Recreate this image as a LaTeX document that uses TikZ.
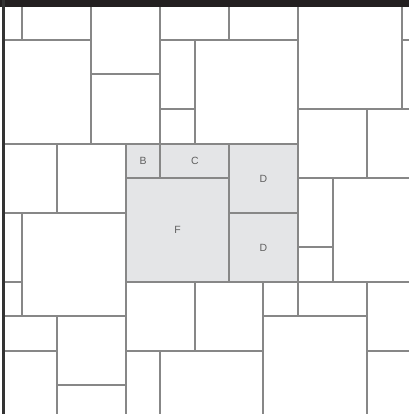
\documentclass[tikz,border=0pt]{standalone}
\usepackage{fontspec}
\setmainfont{Liberation Sans}
\definecolor{linegray}{RGB}{135,135,135}
\definecolor{fillgray}{RGB}{228,229,231}
\definecolor{bardark}{RGB}{35,31,32}
\definecolor{labelgray}{RGB}{95,95,95}
\begin{document}
\begin{tikzpicture}[x=1bp,y=-1bp,
  seam/.style={draw=linegray,line width=1.3bp},
  lbl/.style={text=labelgray,font=\fontsize{10.5}{10.5}\selectfont,inner sep=0pt}]
\useasboundingbox (0,0) rectangle (409,414);
\fill[white] (0,0) rectangle (409,414);
% shaded region
\fill[fillgray] (126,144) rectangle (298,282);
% vertical seams
\draw[seam] (22,7) -- (22,40);
\draw[seam] (22,213) -- (22,316);
\draw[seam] (57,144) -- (57,213);
\draw[seam] (57,316) -- (57,414);
\draw[seam] (91,7) -- (91,144);
\draw[seam] (126,144) -- (126,414);
\draw[seam] (160,7) -- (160,178);
\draw[seam] (160,351) -- (160,414);
\draw[seam] (195,40) -- (195,144);
\draw[seam] (195,282) -- (195,351);
\draw[seam] (229,7) -- (229,40);
\draw[seam] (229,144) -- (229,282);
\draw[seam] (263,282) -- (263,414);
\draw[seam] (298,7) -- (298,316);
\draw[seam] (333,178) -- (333,282);
\draw[seam] (367,109) -- (367,178);
\draw[seam] (367,282) -- (367,414);
\draw[seam] (402,7) -- (402,109);
% horizontal seams
\draw[seam] (4,40) -- (91,40);
\draw[seam] (160,40) -- (298,40);
\draw[seam] (402,40) -- (409,40);
\draw[seam] (91,74) -- (160,74);
\draw[seam] (160,109) -- (195,109);
\draw[seam] (298,109) -- (409,109);
\draw[seam] (4,144) -- (298,144);
\draw[seam] (126,178) -- (229,178);
\draw[seam] (298,178) -- (409,178);
\draw[seam] (4,213) -- (126,213);
\draw[seam] (229,213) -- (298,213);
\draw[seam] (298,247) -- (333,247);
\draw[seam] (4,282) -- (22,282);
\draw[seam] (126,282) -- (409,282);
\draw[seam] (4,316) -- (126,316);
\draw[seam] (263,316) -- (367,316);
\draw[seam] (4,351) -- (57,351);
\draw[seam] (126,351) -- (263,351);
\draw[seam] (367,351) -- (409,351);
\draw[seam] (57,385) -- (126,385);
% labels
\node[lbl] (b) at (143,161) {B};
\node[lbl] (c) at (195,161) {C};
\node[lbl] (d1) at (263.5,178.5) {D};
\node[lbl] (f) at (177.5,230) {F};
\node[lbl] (d2) at (263.5,247.5) {D};
% frame
\fill[bardark] (0,0) rectangle (409,7);
\fill[black!80] (2,0) rectangle (5,414);
\end{tikzpicture}
\end{document}
